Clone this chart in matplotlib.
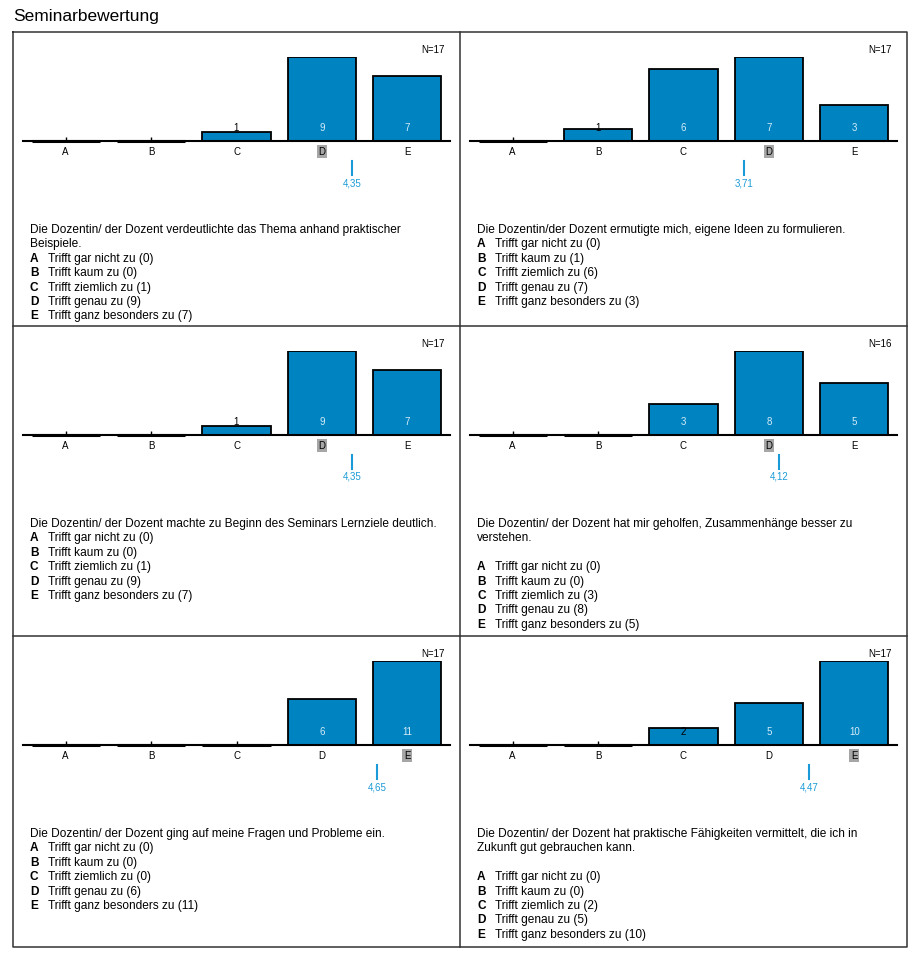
import numpy as np
import matplotlib.pyplot as plt

plt.rcParams['font.family'] = ['Liberation Sans', 'DejaVu Sans']

# --- data ---
CATS = ['A', 'B', 'C', 'D', 'E']
OPTIONS = ['Trifft gar nicht zu', 'Trifft kaum zu', 'Trifft ziemlich zu',
           'Trifft genau zu', 'Trifft ganz besonders zu']

counts_1 = [0, 0, 1, 9, 7]
counts_2 = [0, 1, 6, 7, 3]
counts_3 = [0, 0, 1, 9, 7]
counts_4 = [0, 0, 3, 8, 5]
counts_5 = [0, 0, 0, 6, 11]
counts_6 = [0, 0, 2, 5, 10]
all_counts = [counts_1, counts_2, counts_3, counts_4, counts_5, counts_6]

n_values = [17, 17, 17, 16, 17, 17]
means = [4.35, 3.71, 4.35, 4.12, 4.65, 4.47]

questions = [
    ["Die Dozentin/ der Dozent verdeutlichte das Thema anhand praktischer", "Beispiele."],
    ["Die Dozentin/der Dozent ermutigte mich, eigene Ideen zu formulieren."],
    ["Die Dozentin/ der Dozent machte zu Beginn des Seminars Lernziele deutlich."],
    ["Die Dozentin/ der Dozent hat mir geholfen, Zusammenhänge besser zu", "verstehen.", ""],
    ["Die Dozentin/ der Dozent ging auf meine Fragen und Probleme ein."],
    ["Die Dozentin/ der Dozent hat praktische Fähigkeiten vermittelt, die ich in",
     "Zukunft gut gebrauchen kann.", ""],
]

BAR = '#0083c1'
MEANC = '#1a9bd7'
FRAME = '#333333'

W, H = 916, 956
fig = plt.figure(figsize=(W / 100, H / 100), dpi=100)
fig.patch.set_facecolor('white')

# background axes in pixel coordinates for frame and text
bg = fig.add_axes([0, 0, 1, 1], zorder=0)
bg.set_xlim(0, W)
bg.set_ylim(H, 0)
bg.axis('off')

bg.text(13, 16, 'Seminarbewertung', fontsize=12.5, va='center', ha='left')

col_left = [13, 460]
row_top = [32, 326, 636]
bottom = 947
right = 907
bg.plot([13, right, right, 13, 13], [32, 32, bottom, bottom, 32], color=FRAME, lw=1.1)
for y in row_top[1:]:
    bg.plot([13, right], [y, y], color=FRAME, lw=1.1)
bg.plot([460, 460], [32, bottom], color=FRAME, lw=1.1)

LINE = 14.4
for k, counts in enumerate(all_counts):
    r, c = divmod(k, 2)
    x0 = col_left[c]
    top = row_top[r]
    base = top + 109
    ax_left = x0 + 10
    ax_w = 427
    ax_h = 84
    ax = fig.add_axes([ax_left / W, 1 - base / H, ax_w / W, ax_h / H], zorder=1)
    ax.patch.set_alpha(0)
    xs = np.arange(len(CATS))
    ax.bar(xs, counts, width=0.8, color=BAR, edgecolor='black', lw=1.3, zorder=2)
    # empty categories show as a heavier stroke on the baseline
    for i, v in enumerate(counts):
        if v == 0:
            ax.plot([i - 0.4, i + 0.4], [0, 0], color='black', lw=2.2,
                    solid_capstyle='butt', clip_on=False, zorder=3)
    ax.set_xlim(-0.5, 4.5)
    ax.set_ylim(0, max(counts))
    for s in ['top', 'left', 'right']:
        ax.spines[s].set_visible(False)
    ax.spines['bottom'].set_linewidth(1.5)
    ax.spines['bottom'].set_zorder(3)
    ax.set_yticks([])
    ax.set_xticks(xs, labels=CATS)
    ax.tick_params(axis='x', direction='in', length=3, width=1, labelsize=7, pad=4)
    mode = int(np.argmax(counts))
    ax.get_xticklabels()[mode].set_bbox(dict(facecolor='#a6a6a6', edgecolor='none', pad=1.2))

    for i, v in enumerate(counts):
        if v == 0:
            continue
        col = '#d6ecf8' if v / max(counts) > 0.25 else 'black'
        ax.annotate(str(v), (i, 0), xytext=(0, 9.5), textcoords='offset points',
                    ha='center', va='center', fontsize=7, color=col, zorder=4)

    m = means[k]
    tr = ax.get_xaxis_transform()
    ax.plot([m - 1, m - 1], [-20 / ax_h, -34 / ax_h], transform=tr, color=MEANC,
            lw=1.5, clip_on=False)
    ax.text(m - 1, -42 / ax_h, f'{m:.2f}'.replace('.', ','), transform=tr,
            ha='center', va='center', fontsize=7, color=MEANC)

    bg.text(x0 + 432, top + 18, f'N={n_values[k]}', ha='right', va='center', fontsize=7)

    y = top + 198
    for line in questions[k]:
        bg.text(x0 + 17, y, line, fontsize=8.6, va='center', ha='left')
        y += LINE
    for i, opt in enumerate(OPTIONS):
        bg.text(x0 + 17, y, CATS[i], fontsize=8.6, fontweight='bold', va='center')
        bg.text(x0 + 35, y, f'{opt} ({counts[i]})', fontsize=8.6, va='center')
        y += LINE

fig.savefig('out.png', dpi=100)
